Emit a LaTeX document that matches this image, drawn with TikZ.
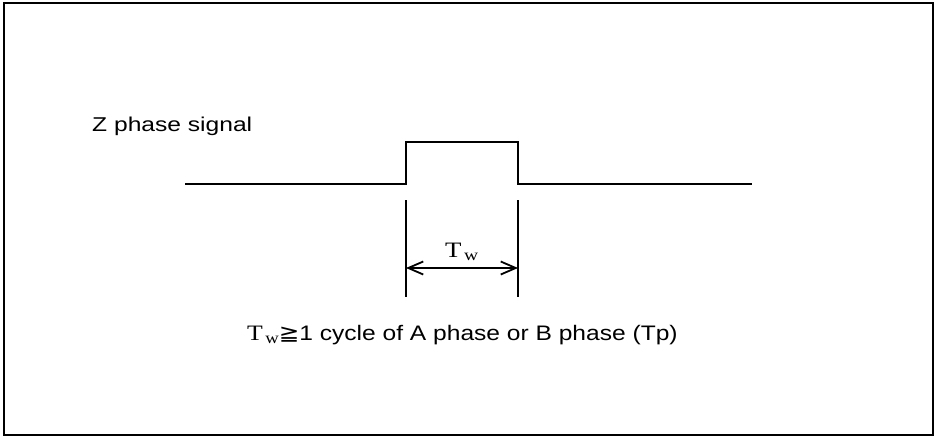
\documentclass[tikz,border=0pt]{standalone}
\usepackage{fontspec}
\setmainfont{Liberation Sans}
\newfontfamily\serifT{Liberation Serif}
\newfontfamily\geqfont{DejaVu Sans}
\usetikzlibrary{arrows.meta,positioning}
\newcommand{\Tw}{{\serifT\fontsize{22}{25}\selectfont T\kern2pt\raisebox{-3pt}{\fontsize{16}{16}\selectfont w}}}

\begin{document}
\begin{tikzpicture}[x=1pt,y=-1pt,
    wave/.style={line width=2pt},
    guide/.style={line width=1.3pt},
    dim/.style={line width=1.8pt, {Straight Barb[length=15pt,width=13pt]}-{Straight Barb[length=15pt,width=13pt]}},
    lbl/.style={inner sep=0pt, anchor=base west, font=\fontsize{20}{23}\selectfont}]
    \useasboundingbox (0,0) rectangle (935,437);

    % Frame
    \draw[line width=2pt] (4,3) rectangle (933,435);

    % Signal name
    \node[lbl, xscale=1.23] (title) at (92,131) {Z phase signal};

    % Z phase pulse
    \coordinate (s0) at (185,184);
    \coordinate (up0) at (406,184);
    \coordinate (up1) at (406,142);
    \coordinate (dn1) at (518,142);
    \coordinate (dn0) at (518,184);
    \coordinate (s1) at (752,184);
    \draw[wave] (s0) -- (up0) -- (up1) -- (dn1) -- (dn0) -- (s1);

    % Extension lines
    \coordinate (g0) at (406,200);
    \coordinate (g0e) at (406,297);
    \coordinate (g1) at (518,200);
    \coordinate (g1e) at (518,297);
    \draw[guide] (g0) -- (g0e);
    \draw[guide] (g1) -- (g1e);

    % Pulse width
    \coordinate (a0) at (406,268);
    \coordinate (a1) at (518,268);
    \draw[dim] (a0) -- (a1);
    \node[lbl, xscale=1.22] (tw) at (445,257) {\Tw};

    % Condition
    \node[lbl, font=\fontsize{21}{24}\selectfont, xscale=1.17] (cond) at (247,340)
        {\Tw{\geqfont ≧}1 cycle of A phase or B phase (Tp)};
\end{tikzpicture}
\end{document}
